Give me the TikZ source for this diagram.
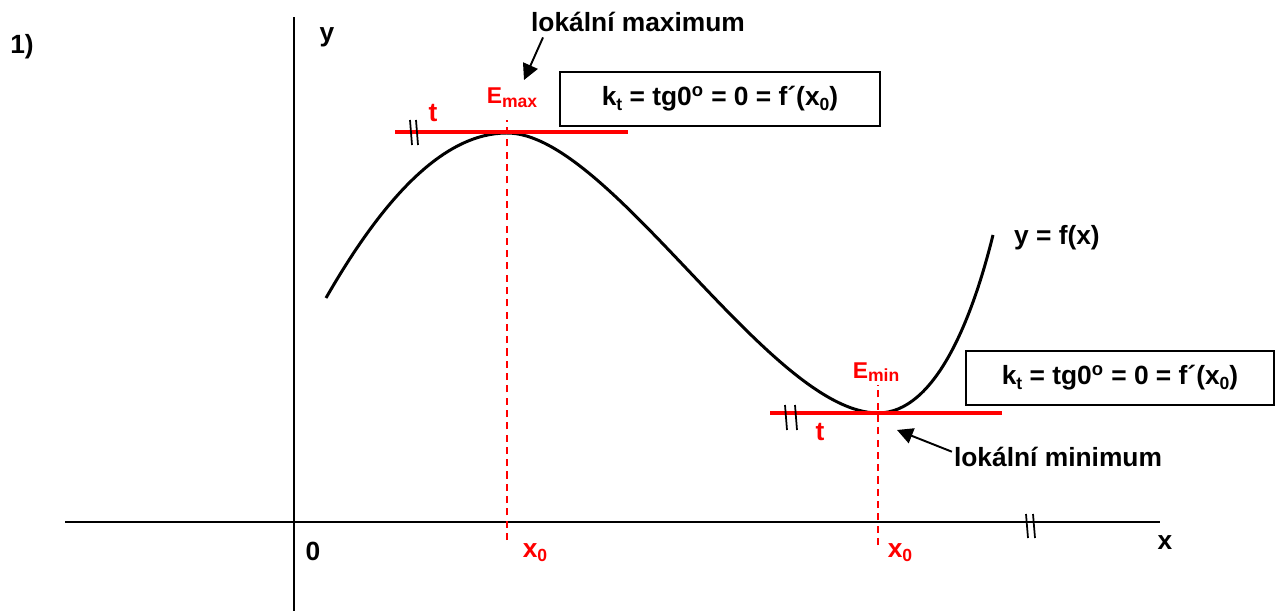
\documentclass[tikz,border=0pt]{standalone}
\usepackage{fontspec}
\setmainfont{Liberation Sans}
\usetikzlibrary{arrows.meta,positioning}
\definecolor{extred}{HTML}{FF0000}
\newcommand{\lowidx}[1]{\raisebox{-0.3ex}{\fontsize{10}{11}\selectfont #1}}
\tikzset{
  axisline/.style={line width=1.3pt,black},
  graphline/.style={line width=1.7pt,black},
  tangline/.style={line width=2.1pt,color=extred},
  dropline/.style={line width=0.9pt,color=extred,dash pattern=on 4pt off 3pt},
  lbl/.style={font=\fontsize{15}{18}\selectfont\bfseries,inner sep=1pt},
  redlbl/.style={lbl,text=extred},
  infobox/.style={draw,line width=1.2pt,font=\fontsize{15}{18}\selectfont\bfseries,
    minimum height=1.08cm,inner sep=2pt},
  callout/.style={-{Triangle[length=9pt,width=9pt]},line width=1.1pt},
  breakmark/.style={line width=1pt},
}

\begin{document}
\begin{tikzpicture}[x=0.02cm,y=-0.02cm]
  \useasboundingbox (0,0) rectangle (1275,611);
  % axes
  \coordinate (ytop) at (294,17);
  \coordinate (ybot) at (294,611);
  \coordinate (xleft) at (65,522);
  \coordinate (xright) at (1160,522);
  \draw[axisline] (ybot) -- (ytop);
  \draw[axisline] (xleft) -- (xright);
  \node[lbl] (num) at (22,47) {1)};
  \node[lbl] (ylab) at (327,37) {y};
  \node[lbl] (xlab) at (1165,543) {x};
  \node[lbl] (orig) at (313,551) {0};
  \draw[breakmark] (1026,514) -- (1028,538);
  \draw[breakmark] (1033,514) -- (1035,538);

  % graph
  \coordinate (cstart) at (326,298);
  \coordinate (pmax) at (507,133);
  \coordinate (pmin) at (878,413);
  \coordinate (cend) at (993,235);
  \draw[graphline] (cstart) .. controls (385,195) and (445,133) .. (pmax)
    .. controls (610,133) and (770,413) .. (pmin)
    .. controls (935,413) and (972,320) .. (cend);
  \node[lbl,anchor=west] (fx) at (1012,238) {y = f(x)};

  % maximum
  \coordinate (tal) at (395,132);
  \coordinate (tar) at (628,132);
  \coordinate (xa) at (507,540);
  \draw[dropline] (xa) -- (507,120);
  \draw[tangline] (tal) -- (tar);
  \draw[breakmark] (410,120) -- (412,145);
  \draw[breakmark] (416,120) -- (418,145);
  \node[redlbl] (ta) at (433,113) {t};
  \node[redlbl,font=\fontsize{13}{15}\selectfont\bfseries] (emax) at (512,98) {E\lowidx{max}};
  \node[redlbl] (xalab) at (535,553) {x\lowidx{0}};
  \node[infobox,minimum width=6.4cm] (boxa) at (720,99)
    {k\lowidx{t} = tg0\textsuperscript{o} = 0 = f´(x\lowidx{0})};
  \node[lbl] (maxlab) at (638,22) {lokální maximum};
  \coordinate (maxtip) at (524,80);
  \draw[callout] ([xshift=8pt,yshift=-2pt]maxlab.south west) -- (maxtip);

  % minimum
  \coordinate (tbl) at (770,413);
  \coordinate (tbr) at (1002,413);
  \coordinate (xb) at (878,545);
  \draw[dropline] (xb) -- (878,385);
  \draw[tangline] (tbl) -- (tbr);
  \draw[breakmark] (785,405) -- (787,430);
  \draw[breakmark] (795,405) -- (797,430);
  \node[redlbl] (tb) at (820,432) {t};
  \node[redlbl,font=\fontsize{13}{15}\selectfont\bfseries] (emin) at (876,372) {E\lowidx{min}};
  \node[redlbl] (xblab) at (900,553) {x\lowidx{0}};
  \node[infobox,minimum width=6.16cm] (boxb) at (1120,378)
    {k\lowidx{t} = tg0\textsuperscript{o} = 0 = f´(x\lowidx{0})};
  \node[lbl] (minlab) at (1058,457) {lokální minimum};
  \coordinate (mintip) at (897,430);
  \draw[callout] ([yshift=3pt]minlab.west) -- (mintip);
\end{tikzpicture}
\end{document}
